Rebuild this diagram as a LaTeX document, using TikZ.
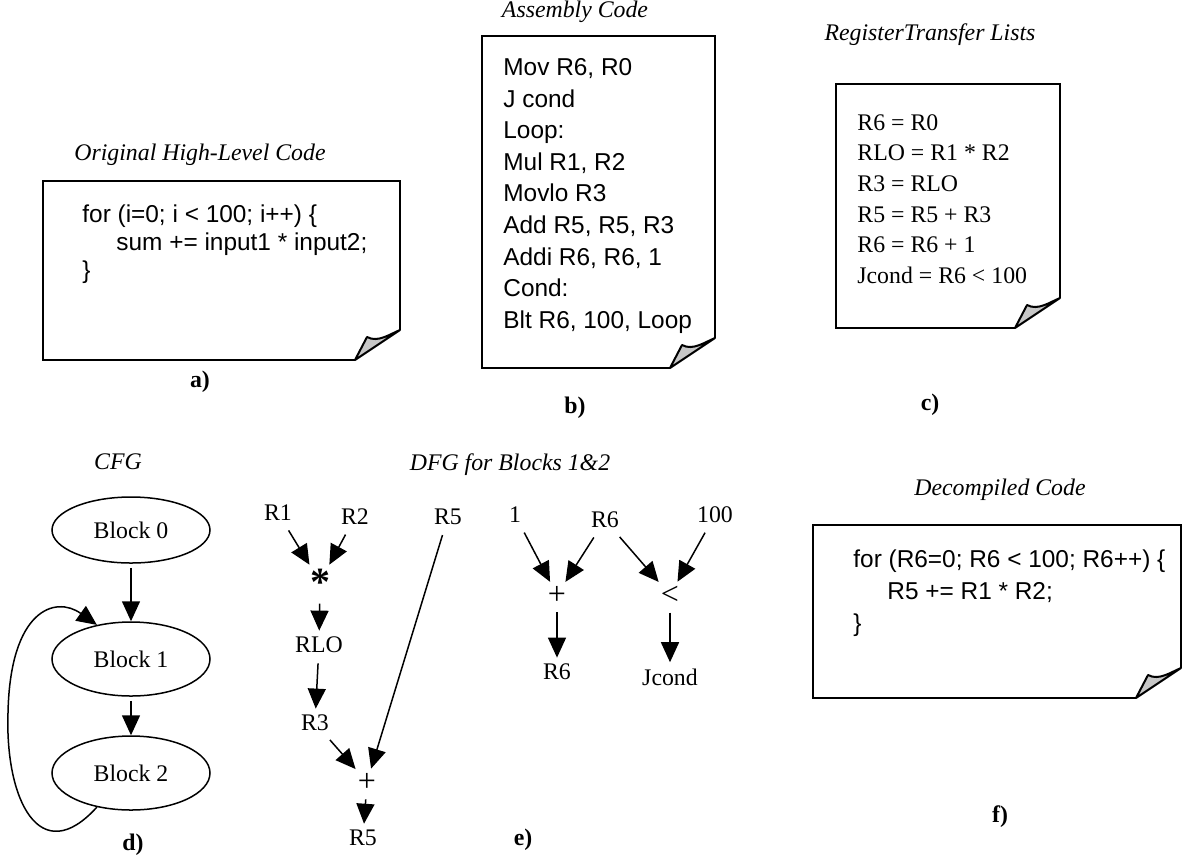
\documentclass[tikz,border=0pt]{standalone}
\usepackage{fontspec}
\setmainfont{Liberation Serif}
\newfontfamily\arialfont{Liberation Sans}
\usetikzlibrary{arrows.meta,positioning,calc,shapes.geometric}

\begin{document}
\begin{tikzpicture}[
    x=0.5pt, y=-0.5pt,
    font=\fontsize{11.9}{14}\selectfont,
    edge/.style={line width=1pt, line join=miter},
    fold/.style={line width=1pt, fill=black!22, line join=round},
    code/.style={anchor=north west, align=left, inner sep=0pt, font=\arialfont\fontsize{12.2}{15.8}\selectfont},
    rtl/.style={anchor=north west, align=left, inner sep=0pt, font=\fontsize{11.9}{15.3}\selectfont},
    caption/.style={font=\itshape\fontsize{11.9}{14}\selectfont},
    tag/.style={font=\bfseries\fontsize{11.9}{14}\selectfont},
    block/.style={draw, ellipse, line width=0.75pt, minimum width=79pt, minimum height=37pt, inner sep=0pt},
    var/.style={inner sep=2pt},
    op/.style={inner sep=1pt, font=\fontsize{16}{16}\selectfont},
    arr/.style={-{Triangle[length=10pt,width=9pt]}, line width=0.75pt},
    dfarr/.style={arr, shorten <=3pt, shorten >=1pt}
]
\useasboundingbox (0,0) rectangle (1183,859);

% a) original code
\draw[edge] (400,330) -- (400,181) -- (43,181) -- (43,360) -- (355,360);
\filldraw[fold] (355,360) -- (367,337) .. controls (378,343) and (390,334) .. (400,330) -- cycle;
\node[code, font=\arialfont\fontsize{12.2}{14}\selectfont] (hlc) at (82,204) {for (i=0; i < 100; i++) \{\\\hspace*{17pt}sum += input1 * input2;\\\}};
\node[caption] (hlccap) at (200,155) {Original High-Level Code};
\node[tag] (taga) at (200,382) {a)};

% b) assembly
\draw[edge] (715,338) -- (715,36) -- (482,36) -- (482,368) -- (670,368);
\filldraw[fold] (670,368) -- (682,345) .. controls (693,351) and (705,342) .. (715,338) -- cycle;
\node[code] (asm) at (503,58) {Mov R6, R0\\J cond\\Loop:\\Mul R1, R2\\Movlo R3\\Add R5, R5, R3\\Addi R6, R6, 1\\Cond:\\Blt R6, 100, Loop};
\node[caption] (asmcap) at (575,12) {Assembly Code};
\node[tag] (tagb) at (575,408) {b)};

% c) register transfers
\draw[edge] (1060,298) -- (1060,84) -- (836,84) -- (836,328) -- (1015,328);
\filldraw[fold] (1015,328) -- (1027,305) .. controls (1038,311) and (1050,302) .. (1060,298) -- cycle;
\node[rtl] (rtl) at (857,114) {R6 = R0\\RLO = R1 * R2\\R3 = RLO\\R5 = R5 + R3\\R6 = R6 + 1\\Jcond = R6 < 100};
\node[caption] (rtlcap) at (930,35) {RegisterTransfer Lists};
\node[tag] (tagc) at (930,405) {c)};

% d) control flow graph
\node[block, minimum height=33pt] (b0) at (131,530) {Block 0};
\node[block] (b1) at (131,659) {Block 1};
\node[block] (b2) at (131,773) {Block 2};
\coordinate (loopleft) at (8,713);
\draw[arr, shorten <=2pt] (b0) -- (b1);
\draw[arr, shorten <=2pt] (b1) -- (b2);
\draw[arr] (b2.225) .. controls (40,870) and (5,800) .. (loopleft) .. controls (10,610) and (55,595) .. (b1.135);
\node[caption] (cfgcap) at (118,462) {CFG};
\node[tag] (tagd) at (133,845) {d)};

% e) data flow graph
\node[var] (r1) at (278,513) {R1};
\node[var] (r2) at (355,517) {R2};
\node[var] (r5in) at (448,517) {R5};
\node[op, font=\bfseries\fontsize{20}{20}\selectfont] (mul) at (320,582) {*};
\node[var] (rlo) at (319,645) {RLO};
\node[var] (r3) at (315,723) {R3};
\node[op] (add) at (367,782) {+};
\node[var] (r5out) at (363,838) {R5};
\draw[dfarr] (r1) -- (mul);
\draw[dfarr] (r2) -- (mul);
\draw[dfarr] (mul) -- (rlo);
\draw[dfarr] (rlo) -- (r3);
\draw[dfarr] (r3) -- (add);
\draw[dfarr] (r5in) -- (add);
\draw[dfarr] (add) -- (r5out);

\node[var] (one) at (515,515) {1};
\node[var] (r6in) at (605,520) {R6};
\node[var] (hundred) at (715,515) {100};
\node[op] (inc) at (557,595) {+};
\node[op] (lt) at (670,595) {<};
\node[var] (r6out) at (557,672) {R6};
\node[var] (jcond) at (670,677) {Jcond};
\draw[dfarr] (one) -- (inc);
\draw[dfarr] (r6in) -- (inc);
\draw[dfarr] (r6in) -- (lt);
\draw[dfarr] (hundred) -- (lt);
\draw[dfarr] (inc) -- (r6out);
\draw[dfarr] (lt) -- (jcond);
\node[caption] (dfgcap) at (510,465) {DFG for Blocks 1\&2};
\node[tag] (tage) at (523,840) {e)};

% f) decompiled code
\draw[edge] (1181,668) -- (1181,525) -- (813,525) -- (813,698) -- (1136,698);
\filldraw[fold] (1136,698) -- (1148,675) .. controls (1159,681) and (1171,672) .. (1181,668) -- cycle;
\node[code, font=\arialfont\fontsize{12.2}{16}\selectfont] (dec) at (853,549) {for (R6=0; R6 < 100; R6++) \{\\\hspace*{17pt}R5 += R1 * R2;\\\}};
\node[caption] (deccap) at (1000,490) {Decompiled Code};
\node[tag] (tagf) at (1000,817) {f)};
\end{tikzpicture}
\end{document}
